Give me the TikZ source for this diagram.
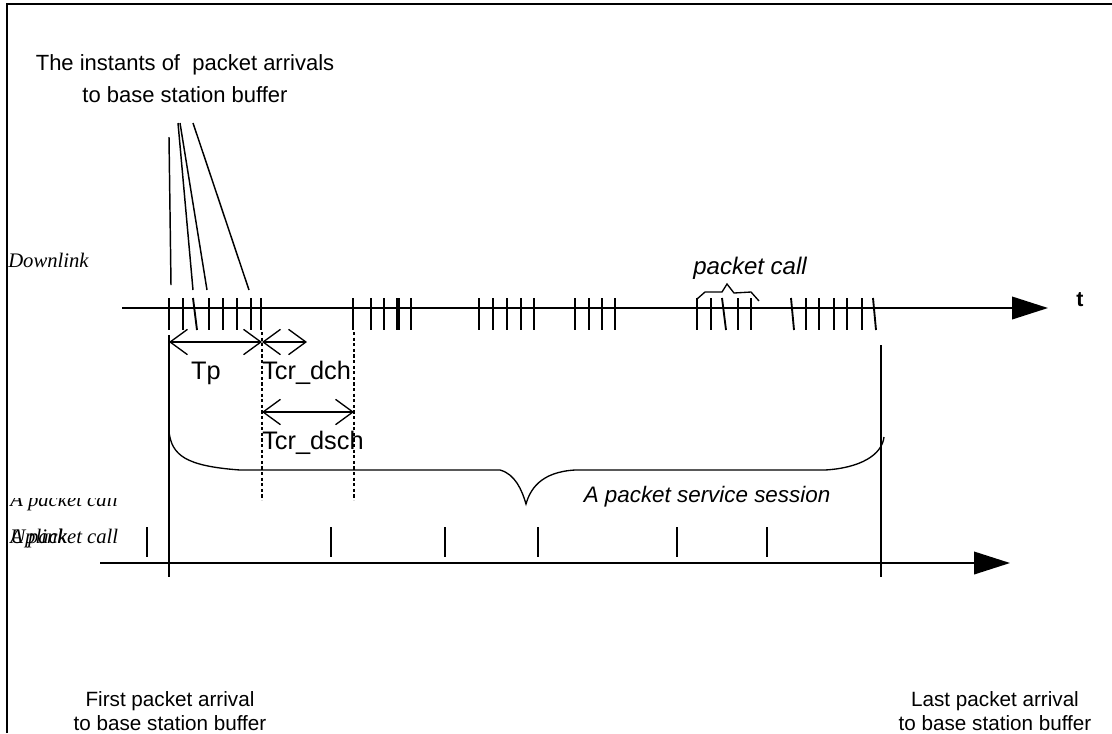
\documentclass[tikz,border=0pt]{standalone}
\usepackage{fontspec}
\setmainfont{Liberation Sans}
\newfontfamily\serifit{Liberation Serif}
\usepackage{tikz}
\usetikzlibrary{arrows.meta, positioning}

\begin{document}
\begin{tikzpicture}[x=0.75pt, y=-0.75pt,
    axisline/.style={line width=1.2pt, -{Triangle[length=27pt,width=17pt]}},
    pkt/.style={line width=1.4pt},
    leader/.style={line width=1.1pt},
    dimline/.style={line width=1pt, {Straight Barb[length=13pt,width=19pt]}-{Straight Barb[length=13pt,width=19pt]}},
    guide/.style={line width=2pt, dash pattern=on 2.4pt off 1.8pt},
    lbl/.style={inner sep=0pt, font=\fontsize{16.5}{24}\selectfont},
    sublbl/.style={inner sep=0pt, font=\fontsize{15.5}{17.5}\selectfont},
    dimlbl/.style={inner sep=0pt, anchor=west, font=\fontsize{19}{22}\selectfont},
    linklbl/.style={inner sep=0pt, anchor=base west, font=\serifit\itshape\fontsize{15.5}{18}\selectfont}]
    \useasboundingbox (0,0) rectangle (1112,733);

    % Frame
    \draw[line width=1pt] (7,733) -- (7,4) -- (1112,4);

    % Labels
    \node[lbl, align=center] (arrivals) at (185,79) {The instants of \ packet arrivals\\to base station buffer};
    \node[linklbl] (downlink) at (8,267) {Downlink};
    \node[inner sep=0pt, font=\itshape\fontsize{18}{20}\selectfont] (pcall) at (750,268) {packet call};
    \node[inner sep=0pt, font=\bfseries\fontsize{16}{18}\selectfont] (tlbl) at (1080,300) {t};

    % Leaders to the arrivals
    \draw[leader] (169,137) -- (171,285);
    \draw[leader] (178,123) -- (193,290);
    \draw[leader] (180,123) -- (207,290);
    \draw[leader] (193,123) -- (249,290);

    % Downlink axis
    \draw[axisline] (122,308) -- (1048,308);
    \foreach \x in {169,183,209,223,237,251,261,
                    353,371,384,397,399,411,
                    479,493,507,521,534,
                    575,589,602,615,
                    697,711,738,751,
                    806,819,834,847,862}
        \draw[pkt] (\x,298) -- (\x,330);
    \draw[pkt] (193,298) -- (197,330);
    \draw[pkt] (722,298) -- (726,330);
    \draw[pkt] (791,298) -- (794,330);
    \draw[pkt] (873,298) -- (876,330);

    % Brace over one packet call
    \draw[line width=1pt] (697,299) -- (705,292) -- (722,292) -- (727,284) -- (734,293) -- (751,292) -- (759,301);

    % Session limits
    \draw[line width=1pt] (169,335) -- (169,577);
    \draw[line width=1pt] (881,345) -- (881,577);
    \draw[guide] (262,332) -- (262,500);
    \draw[guide] (354,332) -- (354,500);

    % Timers
    \draw[dimline] (169,342) -- (262,342);
    \draw[dimline] (262,342) -- (307,342);
    \draw[dimline] (262,412) -- (354,412);
    \node[inner sep=0pt, font=\fontsize{19}{22}\selectfont] (tp) at (206,373) {Tp};
    \node[dimlbl] (tcrdch) at (262,373) {Tcr\_dch};
    \node[dimlbl] (tcrdsch) at (262,443) {Tcr\_dsch};

    % Service session brace
    \draw[line width=1pt] (169,432) .. controls (172,455) and (185,466) .. (240,470) -- (500,470)
        .. controls (515,474) and (522,490) .. (526,504)
        .. controls (530,490) and (540,472) .. (575,470) -- (825,470)
        .. controls (860,468) and (882,455) .. (884,437);
    \node[inner sep=0pt, font=\itshape\fontsize{16.8}{19}\selectfont] (session) at (707,497) {A packet service session};

    % Uplink labels (overprinted)
    \begin{scope}
        \clip (8,498) rectangle (140,515);
        \node[linklbl] (pcallup) at (10,506) {A packet call};
    \end{scope}
    \node[linklbl] (uplink) at (10,543) {Uplink};
    \node[linklbl] (pcalllow) at (10,543) {A packet call};

    % Uplink axis
    \draw[axisline] (100,563) -- (1010,563);
    \foreach \x in {147,331,445,538,677,767}
        \draw[pkt] (\x,527) -- (\x,557);

    % Bottom labels
    \node[sublbl, align=center] (first) at (170,711) {First packet arrival\\to base station buffer};
    \node[sublbl, align=center] (last) at (995,711) {Last packet arrival\\to base station buffer};
\end{tikzpicture}
\end{document}
